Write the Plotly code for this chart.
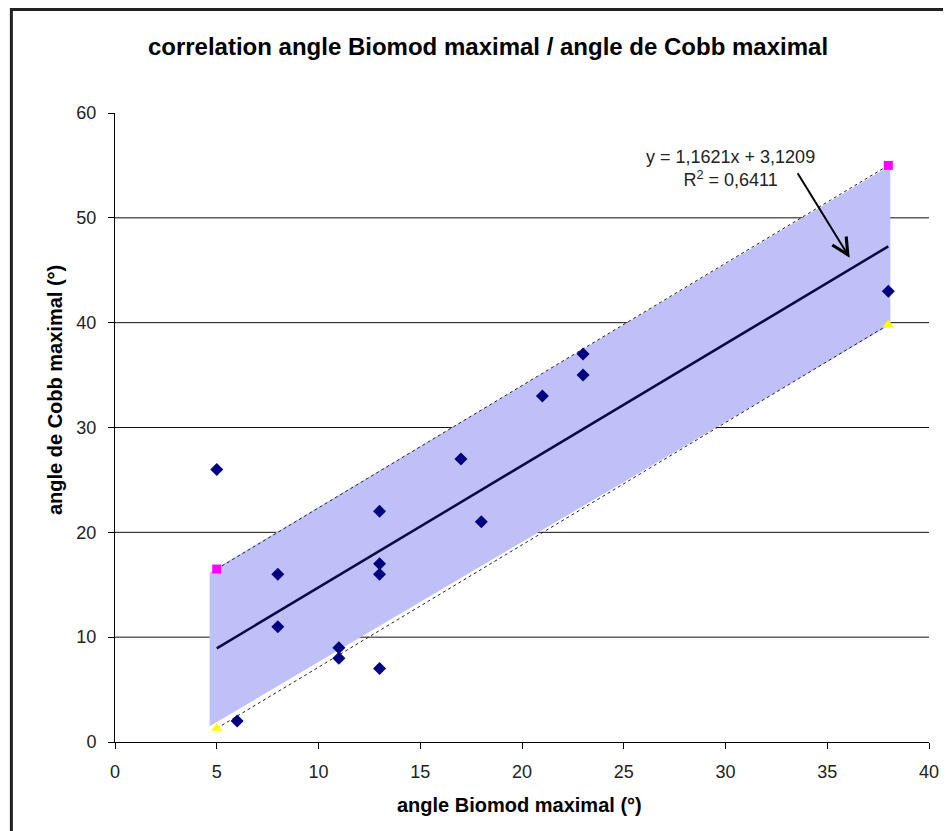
import plotly.graph_objects as go

# ---- data ----
biomod = [5, 6, 8, 8, 11, 11, 13, 13, 13, 13, 17, 18, 21, 23, 23, 38]
cobb = [26, 2, 16, 11, 9, 8, 22, 17, 16, 7, 27, 21, 33, 37, 35, 43]

trend_x = [5, 38]
trend_y = [8.93, 47.28]

band_x = [5, 38]
band_upper = [16.5, 55.0]
band_lower = [1.3, 39.8]

fill_x = [4.65, 38.1, 38.1, 4.65]
fill_y = [16.2, 55.0, 39.8, 1.5]

grid_y = [10, 20, 30, 40, 50]
x_ticks = [0, 5, 10, 15, 20, 25, 30, 35, 40]
y_ticks = [0, 10, 20, 30, 40, 50, 60]

title_text = "correlation angle Biomod maximal / angle de Cobb maximal"
x_title = "angle Biomod maximal (°)"
y_title = "angle de Cobb maximal (°)"
eq_text = "y = 1,1621x + 3,1209<br>R<sup>2</sup> = 0,6411"

FONT = "Liberation Sans, Arial, sans-serif"
W, H = 943, 823  # page has an 8px body margin

fig = go.Figure()

# shaded band
fig.add_trace(go.Scatter(
    x=fill_x + [fill_x[0]], y=fill_y + [fill_y[0]],
    mode="lines", fill="toself", fillcolor="rgb(191,192,248)",
    line=dict(width=0), hoverinfo="skip", showlegend=False))

# dashed band limits
for yy in (band_upper, band_lower):
    fig.add_trace(go.Scatter(
        x=band_x, y=yy, mode="lines",
        line=dict(color="#222222", width=1, dash="3px,3px"),
        showlegend=False, hoverinfo="skip"))

# trend line
fig.add_trace(go.Scatter(
    x=trend_x, y=trend_y, mode="lines",
    line=dict(color="#0a0a40", width=2.5), showlegend=False))

# data points
fig.add_trace(go.Scatter(
    x=biomod, y=cobb, mode="markers",
    marker=dict(symbol="diamond", size=10, color="#000080"),
    showlegend=False))

# band end markers
fig.add_trace(go.Scatter(
    x=band_x, y=band_upper, mode="markers",
    marker=dict(symbol="square", size=9, color="#ff00ff"), showlegend=False))
fig.add_trace(go.Scatter(
    x=band_x, y=band_lower, mode="markers",
    marker=dict(symbol="triangle-up", size=10, color="#ffff00"), showlegend=False))

shapes = []
for g in grid_y:
    shapes.append(dict(type="line", xref="x domain", yref="y",
                       x0=0, x1=1, y0=g, y1=g,
                       line=dict(color="#111111", width=1), layer="below"))
# outer chart border (left + top)
shapes.append(dict(type="path", xref="x domain", yref="y domain",
                   path="M -0.1273 -0.3 L -0.1273 1.1645 L 1.2 1.1645",
                   line=dict(color="#222222", width=3)))

annotations = [
    dict(x=36.1, y=46.2, ax=33.5, ay=54.4, xref="x", yref="y",
         axref="x", ayref="y", text="", showarrow=True,
         arrowhead=5, arrowsize=1.6, arrowwidth=2, arrowcolor="#000000"),
    dict(x=30.26, y=54.75, xref="x", yref="y", text=eq_text, showarrow=False,
         align="center", font=dict(family=FONT, size=18, color="#222222")),
    dict(x=0.497, y=-0.100, xref="x domain", yref="y domain",
         text="<b>" + x_title + "</b>",
         showarrow=False, font=dict(family=FONT, size=20, color="#000000"),
         yanchor="middle"),
    dict(x=-0.0734, y=0.56, xref="x domain", yref="y domain",
         text="<b>" + y_title + "</b>",
         showarrow=False, textangle=-90,
         font=dict(family=FONT, size=20, color="#000000"), xanchor="center"),
]

fig.update_layout(
    width=W, height=H,
    margin=dict(l=107, r=19, t=105, b=89),
    paper_bgcolor="white", plot_bgcolor="white",
    font=dict(family=FONT, size=18, color="#222222"),
    title=dict(text="<b>" + title_text + "</b>", xref="container", yref="container",
               x=480 / W, y=1 - 39 / H, xanchor="center", yanchor="middle",
               font=dict(family=FONT, size=24, color="#000000")),
    shapes=shapes, annotations=annotations,
    xaxis=dict(range=[0, 40], tickvals=x_ticks, showgrid=False, zeroline=False,
               showline=True, linecolor="#000000", linewidth=1,
               ticks="outside", ticklen=6, tickcolor="#000000",
               ticklabelstandoff=7,
               tickfont=dict(family=FONT, size=18, color="#222222")),
    yaxis=dict(range=[0, 60], tickvals=y_ticks, showgrid=False, zeroline=False,
               showline=True, linecolor="#000000", linewidth=1,
               ticks="outside", ticklen=6, tickcolor="#000000",
               ticklabelstandoff=8,
               tickfont=dict(family=FONT, size=18, color="#222222")),
)

fig.write_html("out.html")
